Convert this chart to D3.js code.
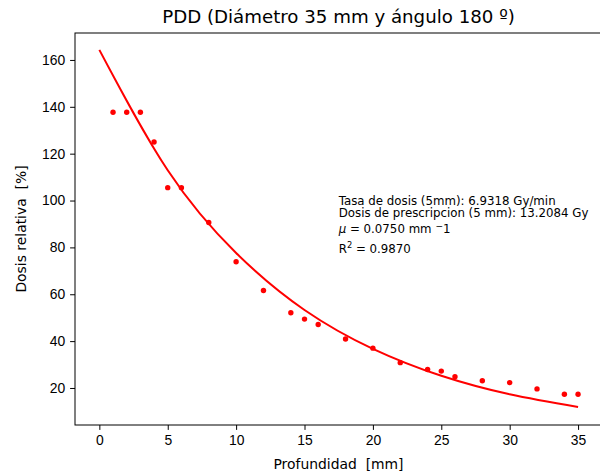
<!DOCTYPE html>
<html>
<head>
<meta charset="utf-8">
<script src="https://cdn.jsdelivr.net/npm/d3@7"></script>
<style>
  body { margin: 0; background: #fff; }
  svg { font-family: "DejaVu Sans", sans-serif; }
  .axis text { font-size: 13.9px; fill: #000; }
  .axis path, .axis line { stroke: #000; stroke-width: 1; }
</style>
</head>
<body>
<svg id="chart"></svg>
<script>
// Measured points (depth in mm, relative dose in %)
const depth = [1, 2, 3, 4, 5, 6, 8, 10, 12, 14, 15, 16, 18, 20, 22, 24, 25, 26, 28, 30, 32, 34, 35];
const dose = [137.7, 137.7, 137.7, 125.0, 105.5, 105.5, 90.6, 73.9, 61.6, 52.1, 49.4, 47.1, 40.9, 37.0, 30.8, 27.9, 27.2, 24.8, 23.1, 22.3, 19.6, 17.3, 17.3];

// Fitted curve
const fitDepth = [0, 5, 10, 15, 20, 25, 30, 35];
const fitDose = [164.3, 112.9, 77.6, 53.3, 36.7, 25.2, 17.3, 11.9];

const xTicks = [0, 5, 10, 15, 20, 25, 30, 35];
const yTicks = [20, 40, 60, 80, 100, 120, 140, 160];

const annotation = [
  'Tasa de dosis (5mm): 6.9318 Gy/min',
  'Dosis de prescripcion (5 mm): 13.2084 Gy'
];

const W = 600, H = 472;
const margin = {top: 33, right: -2, bottom: 47, left: 75};
const width = W - margin.left - margin.right;
const height = H - margin.top - margin.bottom;

const svg = d3.select('#chart').attr('width', W).attr('height', H);
const chart = svg.append('g')
    .attr('transform', `translate(${margin.left},${margin.top})`);

const xScale = d3.scaleLinear().domain([-1.78, 36.75]).range([0, width]);
const yScale = d3.scaleLinear().domain([4.2, 171.5]).range([height, 0]);

const xAxis = d3.axisBottom(xScale).tickValues(xTicks).tickSize(4.9).tickPadding(4.9).tickSizeOuter(0);
const yAxis = d3.axisLeft(yScale).tickValues(yTicks).tickSize(4.9).tickPadding(4.9).tickSizeOuter(0);

chart.append('g')
    .attr('class', 'axis x-axis')
    .attr('transform', `translate(0,${height})`)
    .call(xAxis)
    .call(g => g.select('.domain').remove());

chart.append('g')
    .attr('class', 'axis y-axis')
    .call(yAxis)
    .call(g => g.select('.domain').remove());

// frame
chart.append('rect')
    .attr('width', width).attr('height', height)
    .attr('fill', 'none').attr('stroke', '#000').attr('stroke-width', 1);

// fitted curve
const line = d3.line()
    .x((d, i) => xScale(fitDepth[i]))
    .y(d => yScale(d))
    .curve(d3.curveNatural);

chart.append('path')
    .datum(fitDose)
    .attr('d', line)
    .attr('fill', 'none')
    .attr('stroke', '#ff0000')
    .attr('stroke-width', 2);

// measured points
chart.selectAll('.dot')
    .data(dose)
  .join('circle')
    .attr('class', 'dot')
    .attr('cx', (d, i) => xScale(depth[i]))
    .attr('cy', d => yScale(d))
    .attr('r', 2.7)
    .attr('fill', '#ff0000');

// annotation text
const ax = xScale(17.5);
const note = chart.append('g').attr('font-size', 11.8).attr('fill', '#000');
annotation.forEach((t, i) => {
  note.append('text').attr('x', ax).attr('y', 171.5 + i * 12.5).text(t);
});
const mu = note.append('text').attr('x', ax).attr('y', 200);
mu.append('tspan').attr('font-style', 'italic').text('\u03bc');
mu.append('tspan').text(' = 0.0750 mm ');
mu.append('tspan').attr('dy', -4.5).attr('font-size', 9).text('\u2212');
mu.append('tspan').attr('dy', 4.5).text('1');

const r2 = note.append('text').attr('x', ax).attr('y', 219.5);
r2.append('tspan').text('R');
r2.append('tspan').attr('dy', -4.5).attr('font-size', 8.3).text('2');
r2.append('tspan').attr('dy', 4.5).text(' = 0.9870');

// title and axis labels
svg.append('text')
    .attr('x', margin.left + width / 2).attr('y', 23)
    .attr('text-anchor', 'middle').attr('font-size', 18.2)
    .text('PDD (Di\u00e1metro 35 mm y \u00e1ngulo 180 \u00ba)');

svg.append('text')
    .attr('x', margin.left + width / 2).attr('y', 469)
    .attr('text-anchor', 'middle').attr('font-size', 13.9)
    .attr('xml:space', 'preserve')
    .text('Profundidad  [mm]');

svg.append('text')
    .attr('transform', `translate(26,${margin.top + height / 2}) rotate(-90)`)
    .attr('text-anchor', 'middle').attr('font-size', 13.9)
    .attr('xml:space', 'preserve')
    .text('Dosis relativa  [%]');
</script>
</body>
</html>
